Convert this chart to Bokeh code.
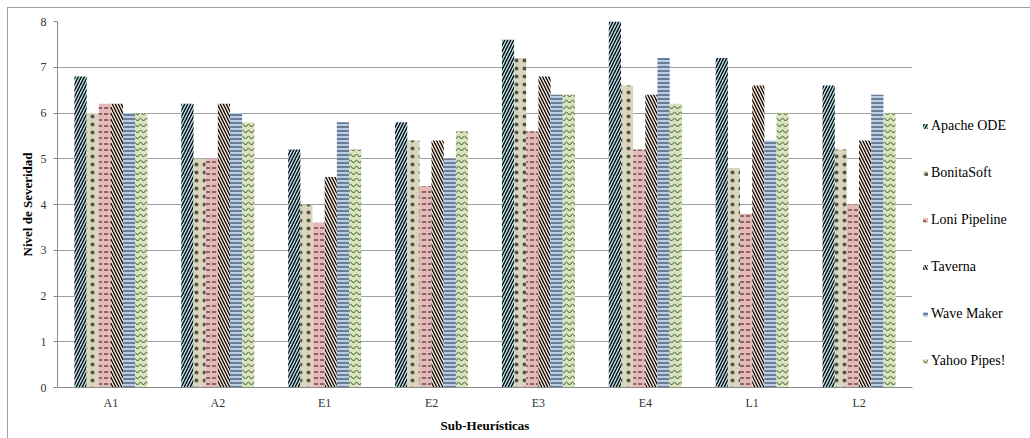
from bokeh.plotting import figure
from bokeh.models import Legend, LegendItem, ColumnDataSource
from bokeh.transform import dodge
from bokeh.embed import file_html
from bokeh.resources import INLINE

categories = ["A1", "A2", "E1", "E2", "E3", "E4", "L1", "L2"]
series = ["Apache ODE", "BonitaSoft", "Loni Pipeline", "Taverna", "Wave Maker", "Yahoo Pipes!"]
apache_ode = [6.8, 6.2, 5.2, 5.8, 7.6, 8.0, 7.2, 6.6]
bonitasoft = [6.0, 5.0, 4.0, 5.4, 7.2, 6.6, 4.8, 5.2]
loni_pipeline = [6.2, 5.0, 3.6, 4.4, 5.6, 5.2, 3.8, 4.0]
taverna = [6.2, 6.2, 4.6, 5.4, 6.8, 6.4, 6.6, 5.4]
wave_maker = [6.0, 6.0, 5.8, 5.0, 6.4, 7.2, 5.4, 6.4]
yahoo_pipes = [6.0, 5.8, 5.2, 5.6, 6.4, 6.2, 6.0, 6.0]
y_ticks = [0, 1, 2, 3, 4, 5, 6, 7, 8]

values = [apache_ode, bonitasoft, loni_pipeline, taverna, wave_maker, yahoo_pipes]
fills = ["#b7dee8", "#d9d6bd", "#e6b9b8", "#fde9d9", "#b9cde5", "#d7e4bd"]
hatches = ["right_diagonal_line", "dot", "horizontal_dash", "left_diagonal_line",
           "horizontal_line", "horizontal_wave"]
hatch_colors = ["#000000", "#55554a", "#4a2e2e", "#000000", "#2a3a58", "#3a4a22"]
hatch_weights = [1.3, 0.6, 1.2, 1.3, 1.1, 1.0]
hatch_scales = [6, 8, 6, 6, 4, 6]

src = {"cat": categories}
keys = ["s%d" % i for i in range(len(series))]
for k, v in zip(keys, values):
    src[k] = v
source = ColumnDataSource(src)

p = figure(x_range=categories, y_range=(0, 8),
           frame_width=855, frame_height=366,
           output_backend="svg", toolbar_location=None,
           min_border_left=49, min_border_right=116, min_border_top=13, min_border_bottom=51)

bw = 0.1138
items = []
for i, k in enumerate(keys):
    off = (i - 2.5) * bw
    r = p.vbar(x=dodge("cat", off, range=p.x_range), top=k, width=bw, bottom=0,
               source=source, fill_color=fills[i], line_color=None,
               hatch_pattern=hatches[i], hatch_color=hatch_colors[i],
               hatch_weight=hatch_weights[i], hatch_scale=hatch_scales[i])
    items.append(LegendItem(label=series[i], renderers=[r]))

legend = Legend(items=items, location=(10, 18), orientation="vertical",
                glyph_width=6, glyph_height=6, label_height=16, spacing=31,
                padding=0, margin=0, label_standoff=3,
                background_fill_alpha=0, border_line_color=None)
legend.label_text_font = "Liberation Serif"
legend.label_text_font_size = "14px"
legend.label_text_color = "#000000"
p.add_layout(legend, "right")

p.outline_line_color = None
p.background_fill_color = "white"
p.border_fill_color = "white"

p.xgrid.grid_line_color = None
p.ygrid.grid_line_color = "#a0a0a0"
p.ygrid.grid_line_width = 1
p.yaxis.ticker = y_ticks

for ax in (p.xaxis[0], p.yaxis[0]):
    ax.axis_line_color = "#8a8a8a"
    ax.major_label_text_font = "Liberation Serif"
    ax.major_label_text_font_size = "12px"
    ax.major_label_text_color = "#333333"
    ax.axis_label_text_font = "Liberation Serif"
    ax.axis_label_text_font_size = "13px"
    ax.axis_label_text_font_style = "bold"
    ax.axis_label_text_color = "#000000"
    ax.minor_tick_line_color = None

p.yaxis.major_tick_line_color = "#8a8a8a"
p.yaxis.major_tick_out = 4
p.yaxis.major_tick_in = 0
p.yaxis.major_label_standoff = 7
p.yaxis.axis_label = "Nivel de Severidad"
p.yaxis.axis_label_standoff = 3

p.xaxis.major_tick_line_color = None
p.xaxis.major_tick_out = 0
p.xaxis.major_tick_in = 0
p.xaxis.major_label_standoff = 8
p.xaxis.axis_label = "Sub-Heurísticas"
p.xaxis.axis_label_standoff = 5

p.styles = {"margin-left": "7px", "margin-top": "7px",
            "border-left": "1px solid #a0a0a0", "border-top": "1px solid #a0a0a0",
            "border-right": "1px solid #a0a0a0"}

open("out.html", "w").write(file_html(p, INLINE))
